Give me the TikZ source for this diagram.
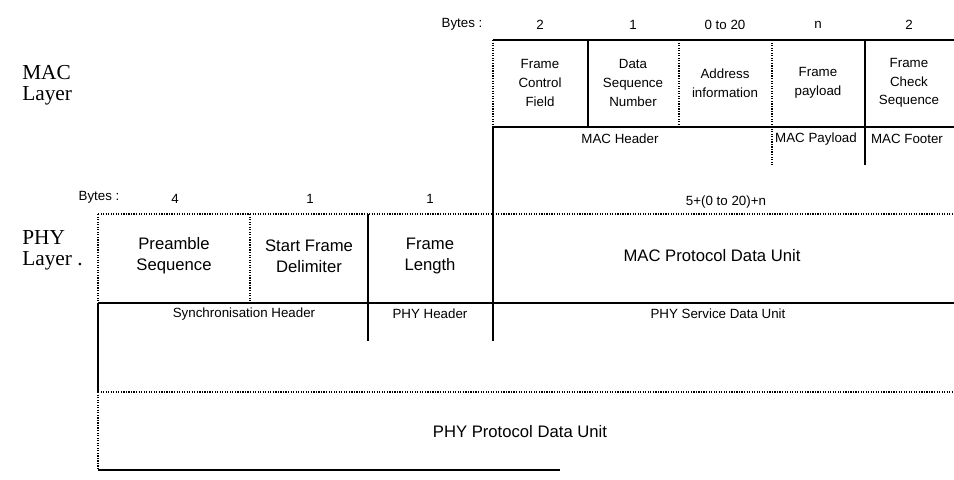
\documentclass[tikz,border=0pt]{standalone}
\usepackage{fontspec}
\setmainfont{Liberation Sans}
\newfontfamily\serifl{Liberation Serif}
\begin{document}
\begin{tikzpicture}[x=0.75pt,y=-0.75pt,
  small/.style={font=\fontsize{10}{11}\selectfont, inner sep=0pt},
  boxtxt/.style={font=\fontsize{10}{14}\selectfont, align=center, inner sep=0pt},
  bigtxt/.style={font=\fontsize{12.5}{16}\selectfont, align=center, inner sep=0pt},
  layertxt/.style={font=\serifl\fontsize{16}{16}\selectfont, align=left, anchor=west, inner sep=0pt},
  solidln/.style={line width=1.3pt},
  thinln/.style={line width=0.8pt},
  dotln/.style={line width=0.9pt, densely dotted}]
\useasboundingbox (0,0) rectangle (954,479);

% ---- coordinates: MAC frame
\coordinate (mtl) at (493,40);  \coordinate (mtr) at (954,40);
\coordinate (mbl) at (493,127); \coordinate (mbr) at (954,127);
\coordinate (m1t) at (588,40);  \coordinate (m1b) at (588,127);
\coordinate (m2t) at (679,40);  \coordinate (m2b) at (679,127);
\coordinate (m3t) at (772,40);  \coordinate (m3b) at (772,127); \coordinate (m3e) at (772,165);
\coordinate (m4t) at (865,40);  \coordinate (m4b) at (865,127); \coordinate (m4e) at (865,165);
% ---- coordinates: PHY frame
\coordinate (ptl) at (98,214);  \coordinate (ptr) at (954,214);
\coordinate (pbl) at (98,303);  \coordinate (pbr) at (954,303);
\coordinate (p1t) at (250,214); \coordinate (p1b) at (250,303);
\coordinate (p2t) at (368,214); \coordinate (p2e) at (368,341);
\coordinate (p3t) at (493,214); \coordinate (p3e) at (493,341);
\coordinate (dl) at (98,392);   \coordinate (dr) at (954,392);
\coordinate (bl) at (98,470);   \coordinate (br) at (560,470);

% ---- MAC lines
\draw[solidln] (mtl) -- (mtr);
\draw[solidln] (mbl) -- (mbr);
\draw[dotln] (mtl) -- (mbl);
\draw[thinln] (m1t) -- (m1b);
\draw[dotln] (m2t) -- (m2b);
\draw[dotln] (m3t) -- (m3e);
\draw[solidln] (m4t) -- (m4e);
\draw[solidln] (mbl) -- (p3t);

% ---- PHY lines
\draw[dotln] (ptl) -- (ptr);
\draw[solidln] (pbl) -- (pbr);
\draw[dotln] (ptl) -- (pbl);
\draw[dotln] (p1t) -- (p1b);
\draw[solidln] (p2t) -- (p2e);
\draw[solidln] (p3t) -- (p3e);
\draw[solidln] (pbl) -- (dl);
\draw[dotln] (dl) -- (dr);
\draw[dotln] (dl) -- (bl);
\draw[thinln] (bl) -- (br);

% ---- layer labels
\node[layertxt] (maclayer) at (22,85) {MAC\\Layer};
\node[layertxt] (phylayer) at (22,250) {PHY\\Layer .};

% ---- MAC byte counts
\node[small] (mbytes) at (462,24) {Bytes :};
\node[small] (mb1) at (540,25) {2};
\node[small] (mb2) at (633,25) {1};
\node[small] (mb3) at (725,25) {0 to 20};
\node[small] (mb4) at (818,25) {n};
\node[small] (mb5) at (909,25) {2};

% ---- MAC fields
\node[boxtxt] (fcf) at (540,83) {Frame\\Control\\Field};
\node[boxtxt] (dsn) at (633,83) {Data\\Sequence\\Number};
\node[boxtxt] (addr) at (725,83) {Address\\information};
\node[boxtxt] (fpl) at (818,83) {Frame\\payload};
\node[boxtxt] (fcs) at (909,83) {Frame\\Check\\Sequence};

\node[small] (machdr) at (620,139) {MAC Header};
\node[small] (macpl) at (816,139) {MAC Payload};
\node[small] (macft) at (907,139) {MAC Footer};
\node[small] (mpdulen) at (726,202) {5+(0 to 20)+n};

% ---- PHY byte counts
\node[small] (pbytes) at (99,197) {Bytes :};
\node[small] (pb1) at (175,199) {4};
\node[small] (pb2) at (310,199) {1};
\node[small] (pb3) at (430,199) {1};

% ---- PHY fields
\node[bigtxt] (pre) at (174,256) {Preamble\\Sequence};
\node[bigtxt] (sfd) at (309,256) {Start Frame\\Delimiter};
\node[bigtxt] (flen) at (430,256) {Frame\\Length};
\node[bigtxt] (mpdu) at (712,256) {MAC Protocol Data Unit};

\node[small] (shr) at (244,314) {Synchronisation Header};
\node[small] (phr) at (430,314) {PHY Header};
\node[small] (psdu) at (718,314) {PHY Service Data Unit};

\node[bigtxt] (ppdu) at (520,432) {PHY Protocol Data Unit};
\end{tikzpicture}
\end{document}
